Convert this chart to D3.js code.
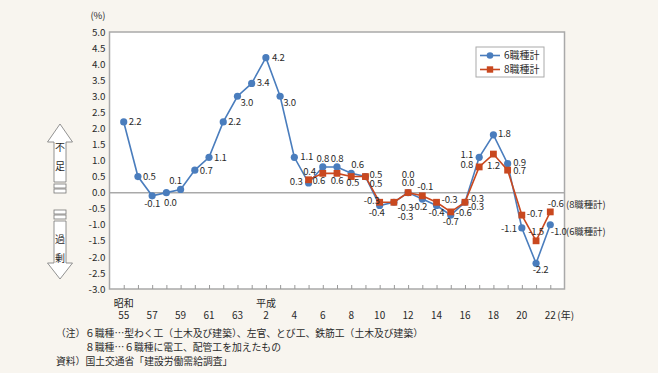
<!DOCTYPE html>
<html><head><meta charset="utf-8">
<script src="https://cdn.jsdelivr.net/npm/d3@7"></script>
<style>
html,body{margin:0;padding:0;background:#f8f5ef;}
text{font-family:"Noto Sans CJK JP","Noto Sans",sans-serif;fill:#2a2a2a;}
</style></head>
<body>
<svg id="chart" width="658" height="373"></svg>
<script>
// ---- data ----
const categories = ["S55","S56","S57","S58","S59","S60","S61","S62","S63","H1","H2","H3","H4","H5","H6","H7","H8","H9","H10","H11","H12","H13","H14","H15","H16","H17","H18","H19","H20","H21","H22"];
const tickLabels = ["55","","57","","59","","61","","63","","2","","4","","6","","8","","10","","12","","14","","16","","18","","20","","22"];
const six = [2.2,0.5,-0.1,0.0,0.1,0.7,1.1,2.2,3.0,3.4,4.2,3.0,1.1,0.3,0.8,0.8,0.6,0.5,-0.4,-0.3,0.0,-0.2,-0.4,-0.7,-0.3,1.1,1.8,0.9,-1.1,-2.2,-1.0];
const eight = [null,null,null,null,null,null,null,null,null,null,null,null,null,0.4,0.6,0.6,0.5,0.5,-0.3,-0.3,0.0,-0.1,-0.3,-0.6,-0.3,0.8,1.2,0.7,-0.7,-1.5,-0.6];
const yTicks = [5.0,4.5,4.0,3.5,3.0,2.5,2.0,1.5,1.0,0.5,0.0,-0.5,-1.0,-1.5,-2.0,-2.5,-3.0];
const seriesNames = ["6職種計","8職種計"];

// ---- label layout (offsets from each point: dx, dy, anchor) ----
const S="start",E="end",M="middle";
const layout6 = [[5,3.5,S],[5,3.5,S],[0,11,M],[4,13,M],[-5,-5,M],[5,3.5,S],[5,3.5,S],[5,3.5,S],[3,10,S],[5,3,S],[6,3,S],[3,10,S],[6,3,S],
  [-6,2,E],[0,-5,M],[0,-5,M],[0,-5,S],[4,1,S],[-3,11,M],[3.5,17.5,S],[0,-7,M],[-3,11,M],[0,11,M],[0,10,M],[3,7.5,S],
  [-6,1,E],[4.5,2,S],[5.5,2,S],[-5,4.5,E],[4.5,9.5,M],[0.5,10,S]];
const layout8 = [null,null,null,null,null,null,null,null,null,null,null,null,null,
  [1,-5,M],[-4,11,M],[0,11,M],[1.5,9,M],[4,10,S],[0,2,E],[3.5,9,S],[0,-15,M],[-5,-6,S],[5,1,S],[5,4,S],[3,-0.6,S],
  [-6,1,E],[0,14.5,M],[5.5,3.5,S],[5,2,S],[0,-6,M],[-2.5,-5,S]];

const fmt = v => d3.format(".1f")(v).replace("\u2212","-");
const colors = {six:"#4a7dbd", eight:"#c9481f"};
const svg = d3.select("#chart");
const W=658,H=373;
svg.append("rect").attr("width",W).attr("height",H).attr("fill","#f8f5ef");

const L=109.5,R=564.5,T=32,B=289;
const x = d3.scalePoint().domain(categories).range([L,R]).padding(1);
const y = d3.scaleLinear().domain([-3,5]).range([B,T]);

svg.append("rect").attr("x",L).attr("y",T).attr("width",R-L).attr("height",B-T)
  .attr("fill","#fff").attr("stroke","#a9a9a9").attr("stroke-width",1.5);

// y axis labels
const yAxis = d3.axisLeft(y).tickValues(yTicks).tickFormat(fmt).tickSize(0).tickPadding(4);
const gy = svg.append("g").attr("transform",`translate(${L},0)`).call(yAxis);
gy.select(".domain").remove();
gy.selectAll("text").attr("font-size",9.8).attr("fill","#2a2a2a").style("font-family","'Noto Sans CJK JP',sans-serif");

// x axis ticks (inside)
const xAxis = d3.axisTop(x).tickSize(4).tickFormat("");
const gx = svg.append("g").attr("transform",`translate(0,${B})`).call(xAxis);
gx.select(".domain").remove();
gx.selectAll("line").attr("stroke","#999").attr("stroke-width",1);
// x tick labels
svg.append("g").selectAll("text").data(categories).join("text")
  .attr("x",d=>x(d)).attr("y",318.5).attr("text-anchor","middle").attr("font-size",10)
  .text((d,i)=>tickLabels[i]);
svg.append("text").attr("x",x("S55")).attr("y",306.5).attr("text-anchor","middle").attr("font-size",10).text("昭和");
svg.append("text").attr("x",x("H2")).attr("y",306.5).attr("text-anchor","middle").attr("font-size",10).text("平成");
svg.append("text").attr("x",x("H22")+7).attr("y",318.5).attr("font-size",10).text("(年)");
svg.append("text").attr("x",98).attr("y",18.5).attr("text-anchor","middle").attr("font-size",9.5).text("(%)");

// zero line
svg.append("line").attr("x1",L).attr("x2",R).attr("y1",y(0)).attr("y2",y(0)).attr("stroke","#a9a9a9").attr("stroke-width",1.5);

function drawSeries(vals,color,shape,layout){
  const pts = categories.map((c,i)=>({c,v:vals[i],o:layout[i]})).filter(d=>d.v!==null);
  const line = d3.line().x(d=>x(d.c)).y(d=>y(d.v));
  svg.append("path").datum(pts).attr("d",line).attr("fill","none").attr("stroke",color).attr("stroke-width",1.6);
  if(shape==="circle"){
    svg.append("g").selectAll("circle").data(pts).join("circle")
      .attr("cx",d=>x(d.c)).attr("cy",d=>y(d.v)).attr("r",3.6).attr("fill",color);
  } else {
    svg.append("g").selectAll("rect").data(pts).join("rect")
      .attr("x",d=>x(d.c)-3.4).attr("y",d=>y(d.v)-3.4).attr("width",6.8).attr("height",6.8).attr("fill",color);
  }
  return pts;
}
const p6 = drawSeries(six,colors.six,"circle",layout6);
const p8 = drawSeries(eight,colors.eight,"square",layout8);
[p6,p8].forEach(pts=>{
  svg.append("g").selectAll("text").data(pts).join("text")
    .attr("x",d=>x(d.c)+d.o[0]).attr("y",d=>y(d.v)+d.o[1])
    .attr("text-anchor",d=>d.o[2]).attr("font-size",9.6).attr("letter-spacing",-0.2)
    .text(d=>fmt(d.v));
});

// end tags
svg.append("text").attr("x",566).attr("y",207.5).attr("font-size",9.4).text("(8職種計)");
svg.append("text").attr("x",566).attr("y",235).attr("font-size",9.4).text("(6職種計)");

// legend
const lg = svg.append("g");
lg.append("rect").attr("x",476).attr("y",47).attr("width",68).attr("height",30).attr("fill","#fff").attr("stroke","#aaa").attr("stroke-width",1);
[[colors.six,"circle"],[colors.eight,"square"]].forEach((s,i)=>{
  const yy = 55.5+i*14;
  lg.append("line").attr("x1",480).attr("x2",500).attr("y1",yy).attr("y2",yy).attr("stroke",s[0]).attr("stroke-width",1.6);
  if(s[1]==="circle") lg.append("circle").attr("cx",490).attr("cy",yy).attr("r",3.3).attr("fill",s[0]);
  else lg.append("rect").attr("x",486.8).attr("y",yy-3.2).attr("width",6.4).attr("height",6.4).attr("fill",s[0]);
  lg.append("text").attr("x",504).attr("y",yy+3.8).attr("font-size",10).text(seriesNames[i]);
});

// shortage / surplus arrows
const ag = svg.append("g").attr("fill","#fff").attr("stroke","#777").attr("stroke-width",0.8);
ag.append("path").attr("d","M60,124 L72.5,142 L66,142 L66,182 L54,182 L54,142 L47.5,142 Z");
ag.append("rect").attr("x",54).attr("y",184).attr("width",12).attr("height",4);
ag.append("rect").attr("x",54).attr("y",189).attr("width",12).attr("height",4);
ag.append("rect").attr("x",54).attr("y",210).attr("width",12).attr("height",4);
ag.append("rect").attr("x",54).attr("y",215).attr("width",12).attr("height",4);
ag.append("path").attr("d","M54,221 L66,221 L66,263 L72.5,263 L60,279 L47.5,263 L54,263 Z");
[["不",146.5],["足",165],["過",238],["剰",257]].forEach(t=>{
  svg.append("text").attr("x",60).attr("y",t[1]).attr("text-anchor","middle").attr("dominant-baseline","central").attr("font-size",10).text(t[0]);
});

// notes
const notes = [
  [56,337,"（注）"],
  [85,337,"６職種…型わく工（土木及び建築）、左官、とび工、鉄筋工（土木及び建築）"],
  [85,351,"８職種…６職種に電工、配管工を加えたもの"],
  [56,365,"資料）国土交通省「建設労働需給調査」"]
];
notes.forEach(n=>svg.append("text").attr("x",n[0]).attr("y",n[1]).attr("font-size",9.8).text(n[2]));
</script>
</body></html>
